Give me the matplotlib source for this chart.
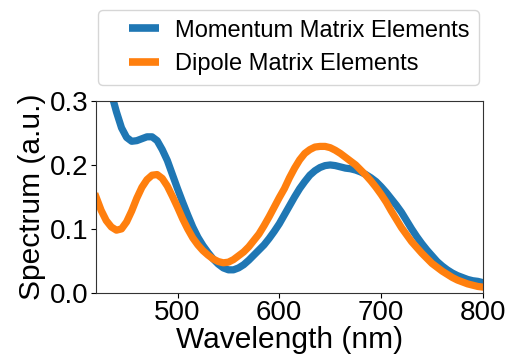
import matplotlib
matplotlib.use("Agg")
import matplotlib.pyplot as plt
from matplotlib.lines import Line2D

plt.rcParams['font.family'] = ['Liberation Sans', 'DejaVu Sans']

# wavelength grid (nm) and read-off spectra
wavelength = list(range(420, 805, 5))

momentum = [0.410, 0.375, 0.345, 0.312, 0.283, 0.258, 0.243, 0.237, 0.238, 0.241,
            0.244, 0.244, 0.238, 0.224, 0.207, 0.185, 0.163, 0.142, 0.122, 0.103,
            0.087, 0.074, 0.063, 0.053, 0.045, 0.039, 0.036, 0.036, 0.039, 0.044,
            0.051, 0.059, 0.067, 0.075, 0.085, 0.096, 0.108, 0.122, 0.136, 0.150,
            0.163, 0.174, 0.184, 0.191, 0.196, 0.199, 0.200, 0.199, 0.197, 0.195,
            0.194, 0.192, 0.189, 0.185, 0.180, 0.174, 0.166, 0.157, 0.147, 0.137,
            0.126, 0.113, 0.100, 0.088, 0.077, 0.067, 0.058, 0.049, 0.042, 0.036,
            0.031, 0.027, 0.024, 0.021, 0.019, 0.018, 0.016]

dipole = [0.150, 0.129, 0.113, 0.103, 0.098, 0.100, 0.111, 0.128, 0.148, 0.165,
          0.177, 0.184, 0.185, 0.179, 0.167, 0.151, 0.134, 0.116, 0.100, 0.086,
          0.075, 0.066, 0.059, 0.053, 0.049, 0.047, 0.048, 0.052, 0.058, 0.064,
          0.072, 0.082, 0.092, 0.105, 0.119, 0.134, 0.149, 0.163, 0.180, 0.195,
          0.208, 0.218, 0.224, 0.228, 0.229, 0.229, 0.227, 0.223, 0.218, 0.212,
          0.206, 0.200, 0.192, 0.184, 0.175, 0.165, 0.154, 0.142, 0.128, 0.115,
          0.102, 0.091, 0.080, 0.071, 0.062, 0.054, 0.046, 0.040, 0.034, 0.029,
          0.024, 0.020, 0.017, 0.014, 0.012, 0.010, 0.009]

labels = ["Momentum Matrix Elements", "Dipole Matrix Elements"]
colors = ["#1f77b4", "#ff7f0e"]

fig = plt.figure(figsize=(5.11, 3.62), dpi=100)
ax = fig.add_axes([0.188, 0.191, 0.757, 0.530])

ax.plot(wavelength, momentum, color=colors[0], lw=5.2)
ax.plot(wavelength, dipole, color=colors[1], lw=5.2)

ax.set_xlim(420, 800)
ax.set_ylim(0, 0.3)
ax.set_xticks([500, 600, 700, 800])
ax.set_yticks([0.0, 0.1, 0.2, 0.3])
ax.tick_params(labelsize=20, pad=2)
for s in ax.spines.values():
    s.set_color("#333333")
ax.set_xlabel("Wavelength (nm)", fontsize=21.5, labelpad=0)
ax.set_ylabel("Spectrum (a.u.)", fontsize=21.5, labelpad=3)

# short thick legend swatches
handles = [Line2D([], [], ls="none", marker="_", markersize=22, mew=5.5, color=c)
           for c in colors]
fig.legend(handles, labels, loc="upper left", bbox_to_anchor=(0.192, 0.972),
           borderaxespad=0, fontsize=17, numpoints=1, handlelength=3.1,
           handletextpad=-0.25)

fig.savefig("out.png", dpi=100)
